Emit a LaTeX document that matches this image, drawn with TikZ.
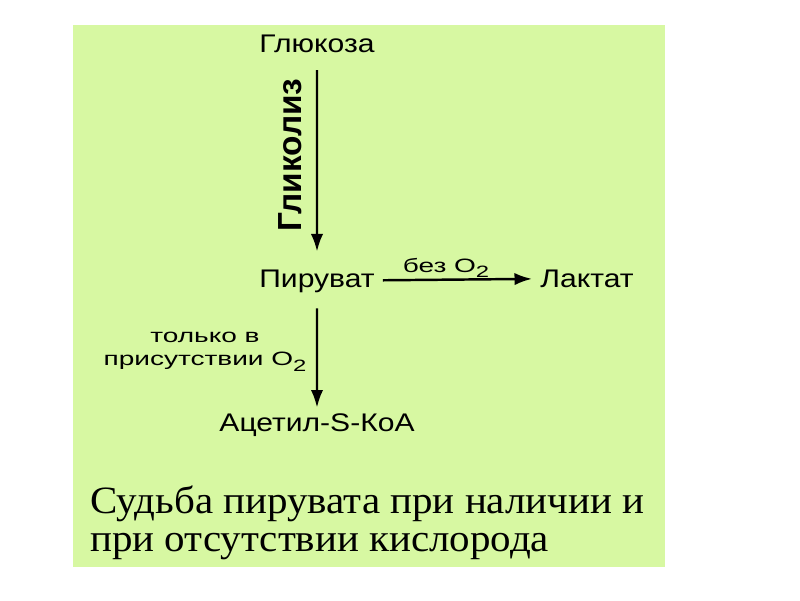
\documentclass[tikz,border=0pt]{standalone}
\usepackage{fontspec}
\setmainfont{Liberation Sans}
\newfontfamily\capfont{Liberation Serif}
\usetikzlibrary{arrows.meta}
\definecolor{bggreen}{HTML}{D7F8A2}
\newcommand{\Otwo}{O\raisebox{-0.3em}{\scalebox{0.85}{2}}}

\begin{document}
\begin{tikzpicture}[x=0.02cm,y=-0.02cm,
    every node/.style={inner sep=0pt},
    metab/.style={anchor=base, xscale=1.18, font=\fontsize{14.5}{16}\selectfont},
    cond/.style={xscale=1.45, font=\fontsize{11}{13}\selectfont},
    caption/.style={anchor=base west, xscale=1.06, font=\capfont\fontsize{22}{24}\selectfont},
    conv/.style={line width=1.4pt,-{Latex[length=10pt,width=7pt]}}]
      \useasboundingbox (0,0) rectangle (800,600);
      \fill[bggreen] (73,25) rectangle (665,567);
      \node[metab] (glucose) at (317,52) {Глюкоза};
      \node[metab] (pyruvate) at (317,287) {Пируват};
      \node[metab] (lactate) at (587,287) {Лактат};
      \node[metab] (acetyl) at (317,431) {Ацетил-S-КоА};
      \path (glucose) edge [conv, shorten <=10pt, shorten >=10pt] (pyruvate);
      \path (pyruvate) edge [conv, shorten <=4.5pt, shorten >=4.5pt] (lactate);
      \path (pyruvate) edge [conv, shorten <=9pt, shorten >=3pt] (acetyl);
      \node[font=\bfseries\fontsize{19}{20}\selectfont, rotate=90] (glyc) at (290,155) {Гликолиз};
      \node[cond, anchor=base] (noox) at (446,272) {без \Otwo};
      \node[cond, align=center] (onlyox) at (205,352) {только в\\присутствии \Otwo};
      \node[caption] (caption1) at (90,513) {Судьба пирувата при наличии и};
      \node[caption] (caption2) at (90,551) {при отсутствии кислорода};
\end{tikzpicture}
\end{document}
